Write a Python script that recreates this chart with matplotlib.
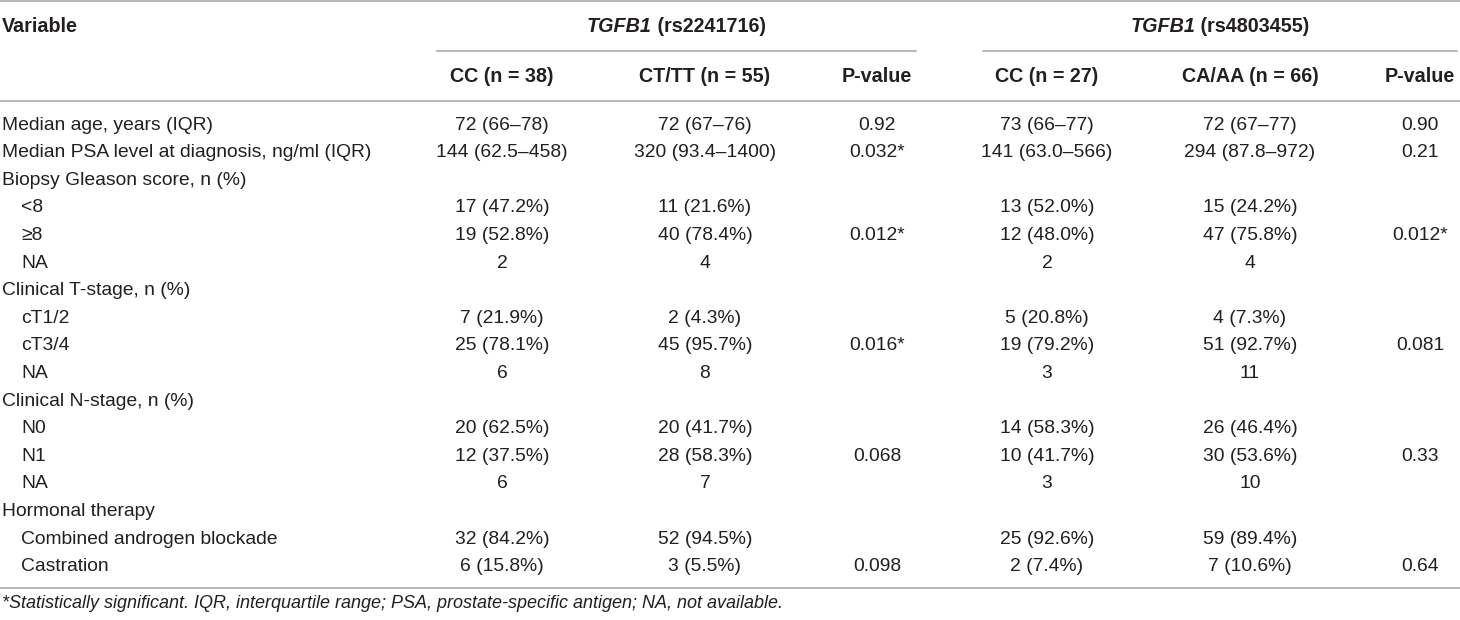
import matplotlib
matplotlib.use("Agg")
import matplotlib.pyplot as plt

# table content
variables = ["Median age, years (IQR)", "Median PSA level at diagnosis, ng/ml (IQR)",
             "Biopsy Gleason score, n (%)", "<8", "≥8", "NA",
             "Clinical T-stage, n (%)", "cT1/2", "cT3/4", "NA",
             "Clinical N-stage, n (%)", "N0", "N1", "NA",
             "Hormonal therapy", "Combined androgen blockade", "Castration"]
indented = [0, 0, 0, 1, 1, 1, 0, 1, 1, 1, 0, 1, 1, 1, 0, 1, 1]

cc_2241716 = ["72 (66–78)", "144 (62.5–458)", "", "17 (47.2%)", "19 (52.8%)", "2", "",
              "7 (21.9%)", "25 (78.1%)", "6", "", "20 (62.5%)", "12 (37.5%)", "6", "",
              "32 (84.2%)", "6 (15.8%)"]
ct_2241716 = ["72 (67–76)", "320 (93.4–1400)", "", "11 (21.6%)", "40 (78.4%)", "4", "",
              "2 (4.3%)", "45 (95.7%)", "8", "", "20 (41.7%)", "28 (58.3%)", "7", "",
              "52 (94.5%)", "3 (5.5%)"]
p_2241716 = ["0.92", "0.032*", "", "", "0.012*", "", "", "", "0.016*", "", "", "", "0.068", "",
             "", "", "0.098"]
cc_4803455 = ["73 (66–77)", "141 (63.0–566)", "", "13 (52.0%)", "12 (48.0%)", "2", "",
              "5 (20.8%)", "19 (79.2%)", "3", "", "14 (58.3%)", "10 (41.7%)", "3", "",
              "25 (92.6%)", "2 (7.4%)"]
ca_4803455 = ["72 (67–77)", "294 (87.8–972)", "", "15 (24.2%)", "47 (75.8%)", "4", "",
              "4 (7.3%)", "51 (92.7%)", "11", "", "26 (46.4%)", "30 (53.6%)", "10", "",
              "59 (89.4%)", "7 (10.6%)"]
p_4803455 = ["0.90", "0.21", "", "", "0.012*", "", "", "", "0.081", "", "", "", "0.33", "",
             "", "", "0.64"]

sub_headers = ["CC (n = 38)", "CT/TT (n = 55)", "P-value", "CC (n = 27)", "CA/AA (n = 66)", "P-value"]
snps = ["rs2241716", "rs4803455"]
gene = "TGFB1"
footnote = ("*Statistically significant. IQR, interquartile range; PSA, "
            "prostate-specific antigen; NA, not available.")

columns = [cc_2241716, ct_2241716, p_2241716, cc_4803455, ca_4803455, p_4803455]
col_x = [502, 705, 877, 1047, 1250, 1420]
span_x = [(437, 916), (983, 1457)]

plt.rcParams['font.family'] = ['Liberation Sans', 'DejaVu Sans']
txt = '#231f20'
rule = '#a3a3a3'
fs = 13.9
fsb = 14.2

fig = plt.figure(figsize=(14.6, 6.2), dpi=100)
ax = fig.add_axes([0, 0, 1, 1])
ax.set_xlim(0, 1460)
ax.set_ylim(620, 0)
ax.axis('off')

# rules
ax.plot([0, 1460], [1, 1], color=rule, lw=1.1)
for x0, x1 in span_x:
    ax.plot([x0, x1], [51, 51], color=rule, lw=1.1)
ax.plot([0, 1460], [100.5, 100.5], color=rule, lw=1.1)
ax.plot([0, 1460], [588, 588], color=rule, lw=1.1)

# headers
ax.text(2, 27, "Variable", fontsize=fsb, fontweight='bold', color=txt, va='center', ha='left')
fig.canvas.draw()
rend = fig.canvas.get_renderer()
for (x0, x1), snp in zip(span_x, snps):
    t1 = ax.text(0, 27, gene, fontsize=fsb, fontweight='bold', fontstyle='italic',
                 color=txt, va='center', ha='left')
    t2 = ax.text(0, 27, " (" + snp + ")", fontsize=fsb, fontweight='bold',
                 color=txt, va='center', ha='left')
    w1 = t1.get_window_extent(rend).width
    w2 = t2.get_window_extent(rend).width
    start = (x0 + x1) / 2 - (w1 + w2) / 2
    t1.set_x(start)
    t2.set_x(start + w1)
for x, h in zip(col_x, sub_headers):
    ax.text(x, 76, h, fontsize=fsb, fontweight='bold', color=txt, va='center', ha='center')

# body
row_y0, row_h = 125, 27.6
for i, (name, ind) in enumerate(zip(variables, indented)):
    y = row_y0 + i * row_h
    ax.text(21 if ind else 2, y, name, fontsize=fs, color=txt, va='center', ha='left')
    for x, col in zip(col_x, columns):
        if col[i]:
            ax.text(x, y, col[i], fontsize=fs, color=txt, va='center', ha='center')

ax.text(2, 603, footnote, fontsize=13.0, fontstyle='italic', color=txt, va='center', ha='left')

fig.savefig("out.png", dpi=100)
